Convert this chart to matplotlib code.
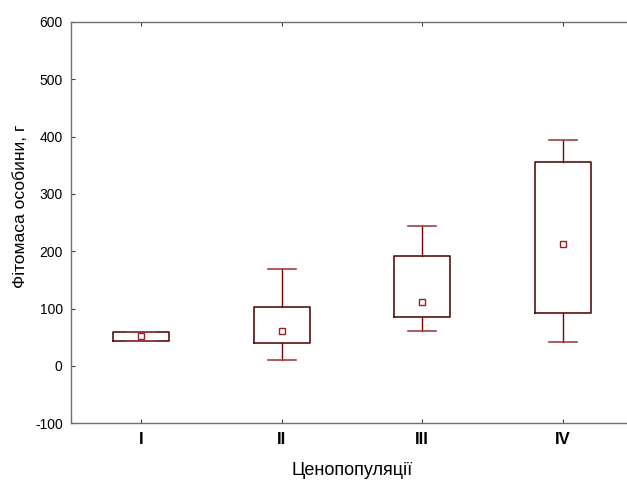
import matplotlib.pyplot as plt

plt.rcParams['font.family'] = ['Liberation Sans', 'DejaVu Sans']
plt.rcParams['axes.unicode_minus'] = False

groups = ['I', 'II', 'III', 'IV']
whisk_lo = [44, 10, 61, 42]
q1 = [44, 40, 86, 92]
medians = [52, 61, 112, 213]
q3 = [60, 103, 191, 355]
whisk_hi = [60, 170, 245, 395]

stats = []
for name, lo, a, m, b, hi in zip(groups, whisk_lo, q1, medians, q3, whisk_hi):
    stats.append(dict(label=name, whislo=lo, q1=a, med=m, q3=b, whishi=hi, fliers=[]))

dark = '#800000'

fig = plt.figure(figsize=(6.27, 4.82), dpi=100)
ax = fig.add_axes([0.1132, 0.1218, 0.8963, 0.8326])

ax.bxp(stats, positions=[1, 2, 3, 4], widths=0.4, showfliers=False,
       boxprops=dict(color='#5a1010', linewidth=1.2),
       whiskerprops=dict(color=dark, linewidth=1.0),
       capprops=dict(color='#a04040', linewidth=1.2),
       medianprops=dict(linewidth=0))
ax.plot([1, 2, 3, 4], medians, linestyle='none', marker='s', markersize=5,
        markerfacecolor='white', markeredgecolor='#a02020', markeredgewidth=1.0)

ax.set_xlim(0.5, 4.5)
ax.set_ylim(-100, 600)
ax.set_yticks(range(-100, 601, 100))
ax.set_xticks([1, 2, 3, 4])
ax.set_xticklabels(groups, fontsize=12, fontweight='bold')

for s in ax.spines.values():
    s.set_color('#707070')
    s.set_linewidth(1.0)

ax.tick_params(axis='y', direction='in', length=3, labelsize=10, color='#404040', pad=6)
ax.tick_params(axis='x', direction='in', length=3, top=True, color='#404040', pad=6)

ax.set_xlabel('Ценопопуляції', fontsize=13, labelpad=11)
ax.set_ylabel('Фітомаса особини, г', fontsize=12.5)
ax.yaxis.set_label_coords(-0.077, 0.54)

fig.savefig('out.png', dpi=100)
